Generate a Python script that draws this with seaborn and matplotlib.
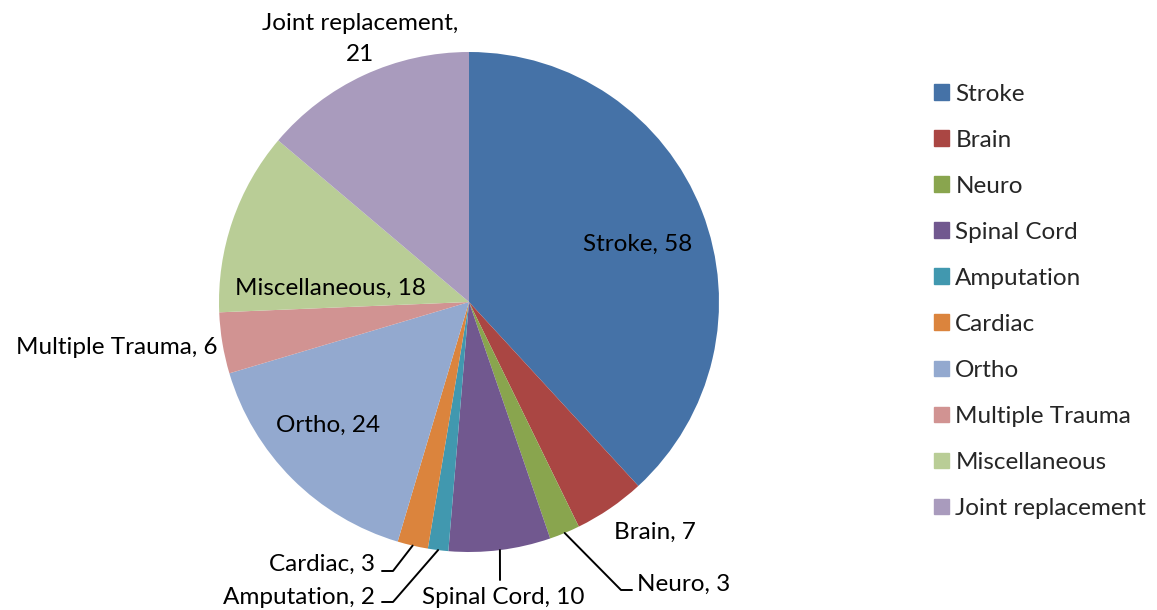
import numpy as np
import matplotlib.pyplot as plt
import seaborn as sns

# data
categories = ['Stroke', 'Brain', 'Neuro', 'Spinal Cord', 'Amputation', 'Cardiac',
              'Ortho', 'Multiple Trauma', 'Miscellaneous', 'Joint replacement']
counts = [58, 7, 3, 10, 2, 3, 24, 6, 18, 21]
colors = ['#4572A7', '#AA4643', '#89A54E', '#71588F', '#4198AF', '#DB843D',
          '#93A9CF', '#D19392', '#B9CD96', '#A99BBD']

sns.set_theme(style='white')
plt.rcParams['font.family'] = ['Lato', 'DejaVu Sans']
FS = 17.5

W, H = 1157, 610
CX, CY, R = 469, 302, 250

fig = plt.figure(figsize=(W / 100, H / 100), dpi=100)
ax = fig.add_axes([(CX - R) / W, (H - CY - R) / H, 2 * R / W, 2 * R / H])
wedges, _ = ax.pie(counts, colors=colors, startangle=90, counterclock=False,
                   radius=1, wedgeprops=dict(linewidth=0))
ax.set_xlim(-1, 1)
ax.set_ylim(-1, 1)


def px(x, y):
    # pixel position -> pie data coords
    return (x - CX) / R, (CY - y) / R


def edge(i, r=1.0):
    # point on the rim at the middle of wedge i
    w = wedges[i]
    a = np.deg2rad((w.theta1 + w.theta2) / 2)
    return r * np.cos(a), r * np.sin(a)


def label(i, pos, ha='center', line_to=None):
    txt = f"{categories[i]}, {counts[i]}"
    ls = 1.15
    if categories[i] == 'Joint replacement':
        txt = f"{categories[i]},\n{counts[i]}"
        ls = 1.55
    ax.text(*px(*pos), txt, ha=ha, va='center', fontsize=FS, color='black',
            linespacing=ls)
    if line_to is not None:
        x0, y0 = edge(i)
        pts = [(x0, y0)] + [px(*p) for p in line_to]
        xs, ys = zip(*pts)
        ax.plot(xs, ys, color='black', lw=1.4, clip_on=False)


# inside labels
label(0, (638, 244))
label(8, (330, 288))
label(6, (328, 425))

# outside labels
label(9, (360, 39))
label(1, (614, 532), ha='left')
label(2, (637, 584), ha='left', line_to=[(621, 590), (632, 590)])
label(3, (503, 598), line_to=[(500, 580)])
label(5, (375, 564), ha='right', line_to=[(393, 571), (382, 571)])
label(4, (375, 597), ha='right', line_to=[(393, 602), (382, 602)])
label(7, (217, 347), ha='right')

# legend
handles = [plt.Rectangle((0, 0), 1, 1, color=c) for c in colors]
fig.legend(handles, categories, loc='upper left', bbox_to_anchor=(924 / W, 1 - 74 / H),
           frameon=False, fontsize=FS, handlelength=0.62, handleheight=0.62,
           handletextpad=0.27, labelspacing=1.03, borderaxespad=0)

fig.savefig('out.png', dpi=100)
